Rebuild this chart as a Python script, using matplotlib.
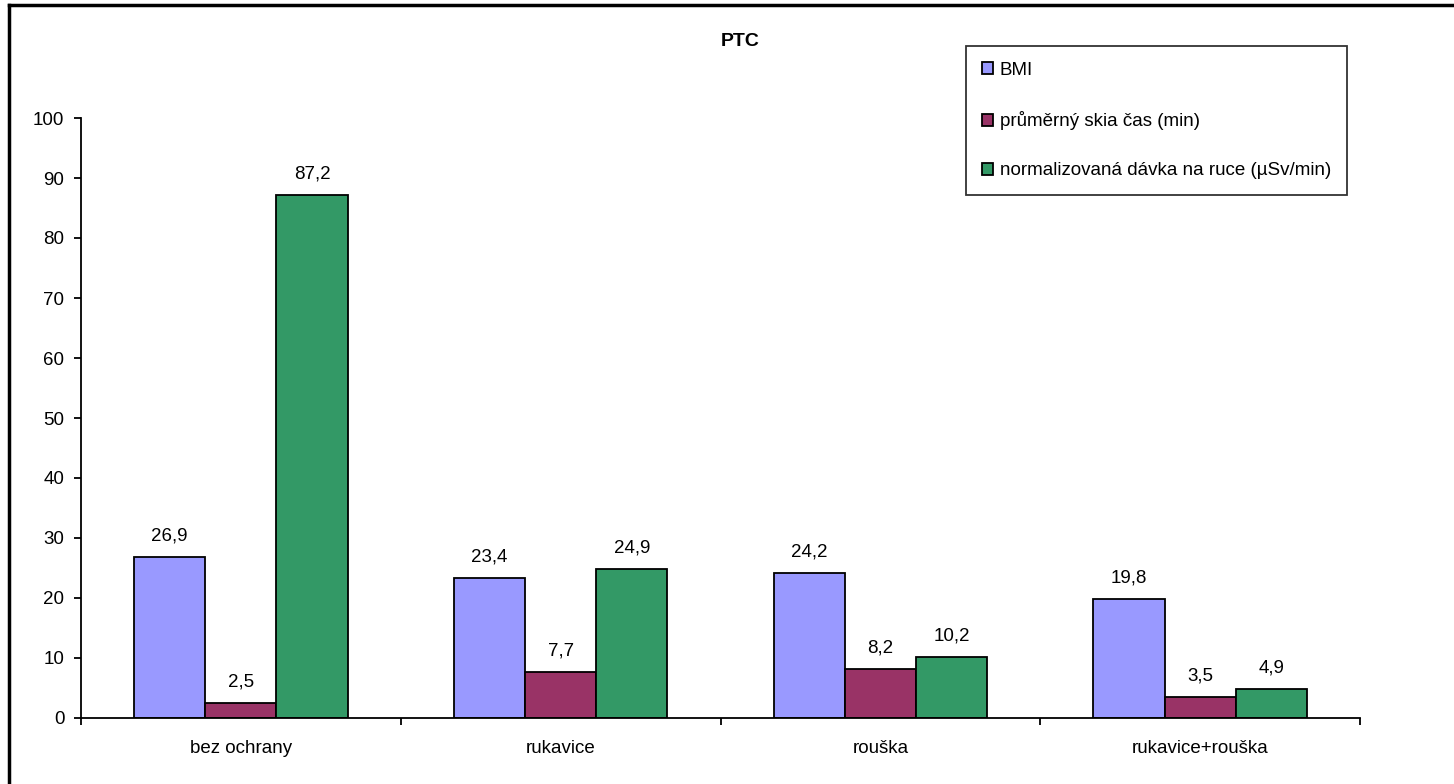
import numpy as np
import matplotlib.pyplot as plt
from matplotlib.lines import Line2D

plt.rcParams['font.family'] = ['Liberation Sans', 'DejaVu Sans']

kategorie = ['bez ochrany', 'rukavice', 'rouška', 'rukavice+rouška']
bmi = [26.9, 23.4, 24.2, 19.8]
skia_cas = [2.5, 7.7, 8.2, 3.5]
davka = [87.2, 24.9, 10.2, 4.9]
serie_nazvy = ['BMI', 'průměrný skia čas (min)', 'normalizovaná dávka na ruce (µSv/min)']
barvy = ['#9999FF', '#993366', '#339966']

fs = 13.5

fig = plt.figure(figsize=(14.54, 7.84), dpi=100)
ax = fig.add_axes([81/1454, 66/784, 1279/1454, 600/784])

x = np.arange(len(kategorie))
w = 0.2225
for i, (hodnoty, barva, nazev) in enumerate(zip([bmi, skia_cas, davka], barvy, serie_nazvy)):
    pos = x + (i - 1) * w
    ax.bar(pos, hodnoty, width=w, color=barva, edgecolor='black', linewidth=1.3, label=nazev)
    for px, v in zip(pos, hodnoty):
        ax.annotate(('%.1f' % v).replace('.', ','), (px, v), xytext=(0, 9),
                    textcoords='offset points', ha='center', va='bottom', fontsize=fs)

ax.set_xlim(-0.5, len(kategorie) - 0.5)
ax.set_ylim(0, 100)
ax.set_yticks(range(0, 101, 10))
ax.set_xticks(x)
ax.set_xticklabels(kategorie)
ax.set_xticks(np.arange(-0.5, len(kategorie)), minor=True)
ax.tick_params(axis='x', which='major', length=0, pad=16, labelsize=fs)
ax.tick_params(axis='x', which='minor', length=5, width=1.3, direction='out')
ax.tick_params(axis='y', length=5, width=1.3, direction='out', pad=7, labelsize=fs)
for s in ['top', 'right']:
    ax.spines[s].set_visible(False)
for s in ['left', 'bottom']:
    ax.spines[s].set_linewidth(1.3)

fig.text(740/1454, 1 - 41/784, 'PTC', ha='center', va='center', fontsize=14, fontweight='bold')

leg = fig.legend(loc='upper left', bbox_to_anchor=(966/1454, 1 - 46/784), fontsize=fs,
                 frameon=True, fancybox=False, handlelength=0.6, handleheight=0.6,
                 handletextpad=0.35, labelspacing=1.72, borderpad=0.85, borderaxespad=0)
leg.get_frame().set_edgecolor('black')
leg.get_frame().set_linewidth(1.3)
for h in leg.legend_handles:
    h.set_linewidth(1.3)

# outer frame of the chart area, visible on top and left
fig.add_artist(Line2D([9/1454, 1.0], [1 - 5/784, 1 - 5/784], transform=fig.transFigure, color='black', linewidth=2.5))
fig.add_artist(Line2D([9/1454, 9/1454], [0, 1 - 5/784], transform=fig.transFigure, color='black', linewidth=2.5))

fig.savefig('out.png', dpi=100)
